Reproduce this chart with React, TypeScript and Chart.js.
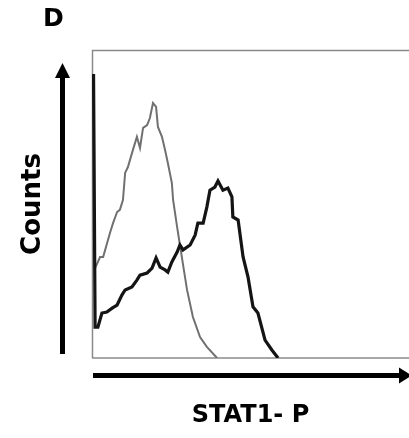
import React, { useEffect, useRef } from "react";
import { Chart, registerables } from "chart.js";

Chart.register(...registerables);

// Fluorescence channel (x) and counts (y)
const blackX = [5, 10, 19, 32, 48, 65, 81, 97, 107, 129, 145, 155, 178, 194, 207, 220, 236, 245, 258, 275, 284, 294, 317, 333, 342, 359, 371, 381, 397, 407, 423, 439, 452, 455, 472, 488, 504, 520, 536, 559, 581, 601];
const blackY = [92.2, 10, 10, 14.6, 14.9, 16.2, 17.2, 20.5, 22.1, 23.1, 25.3, 26.9, 27.6, 29.2, 32.5, 29.5, 28.6, 27.9, 31.2, 34.4, 36.7, 35.1, 36.7, 39.9, 43.8, 43.8, 49.0, 54.5, 55.5, 57.5, 54.5, 55.2, 52.3, 45.8, 44.8, 32.8, 26.3, 16.6, 14.6, 5.8, 2.6, 0];

const grayX = [10, 26, 36, 58, 68, 81, 90, 100, 107, 116, 132, 145, 155, 165, 178, 187, 197, 207, 213, 226, 236, 245, 258, 262, 275, 284, 307, 326, 349, 371, 404];
const grayY = [29.2, 32.8, 32.8, 40.6, 43.8, 47.4, 48.1, 51.3, 60.1, 62.0, 67.5, 71.8, 68.2, 74.7, 75.6, 77.9, 82.8, 81.5, 75.0, 71.8, 67.5, 63.3, 56.8, 51.3, 42.5, 36.7, 22.1, 13.3, 6.8, 3.6, 0];

const panelLabel = "D";
const xTitle = "STAT1- P";
const yTitle = "Counts";
const xRange = [0, 1024];
const yRange = [0, 100];

const toPoints = (xs: number[], ys: number[]) => xs.map((x, i) => ({ x, y: ys[i] }));

const decorPlugin = {
  id: "decor",
  beforeDatasetsDraw(chart: any) {
    const { ctx, chartArea: a } = chart;
    ctx.save();
    ctx.strokeStyle = "#8a8a8a";
    ctx.lineWidth = 1.5;
    ctx.beginPath();
    ctx.moveTo(a.left + 0.5, a.bottom);
    ctx.lineTo(a.left + 0.5, a.top + 0.5);
    ctx.lineTo(a.right, a.top + 0.5);
    ctx.moveTo(a.left, a.bottom);
    ctx.lineTo(a.right, a.bottom);
    ctx.stroke();
    ctx.restore();
  },
  afterDraw(chart: any) {
    const { ctx, chartArea: a } = chart;
    ctx.save();
    ctx.fillStyle = "#000";
    // vertical arrow
    const vx = a.left - 29.5;
    const vTip = a.top + 13;
    const vBase = vTip + 15;
    ctx.fillRect(vx - 2.5, vBase - 1, 5, a.bottom - 4 - vBase + 1);
    ctx.beginPath();
    ctx.moveTo(vx, vTip);
    ctx.lineTo(vx - 7.5, vBase);
    ctx.lineTo(vx + 7.5, vBase);
    ctx.closePath();
    ctx.fill();
    // horizontal arrow
    const hy = a.bottom + 17.5;
    const hBase = a.right - 10;
    ctx.fillRect(a.left + 1, hy - 2.5, hBase - a.left, 5);
    ctx.beginPath();
    ctx.moveTo(hBase + 13, hy);
    ctx.lineTo(hBase, hy - 8);
    ctx.lineTo(hBase, hy + 8);
    ctx.closePath();
    ctx.fill();
    ctx.restore();
  },
};

export default function App() {
  const ref = useRef<HTMLCanvasElement>(null);
  useEffect(() => {
    if (!ref.current) return;
    const chart = new Chart(ref.current, {
      type: "line",
      data: {
        datasets: [
          {
            label: "STAT1-P stimulated",
            data: toPoints(blackX, blackY),
            borderColor: "#141414",
            borderWidth: 3.2,
            pointRadius: 0,
            tension: 0,
            fill: false,
          },
          {
            label: "control",
            data: toPoints(grayX, grayY),
            borderColor: "#707070",
            borderWidth: 2,
            pointRadius: 0,
            tension: 0,
            fill: false,
          },
        ],
      },
      options: {
        animation: false,
        responsive: false,
        layout: { padding: { left: 43, top: 0, right: 0, bottom: 0 } },
        plugins: {
          legend: { display: false },
          tooltip: { enabled: false },
          title: {
            display: true,
            text: panelLabel,
            align: "start",
            color: "#000",
            font: { family: "DejaVu Sans", weight: "bold", size: 25, lineHeight: 1.2 },
            padding: { top: 4, bottom: 16 },
          },
        },
        scales: {
          x: {
            type: "linear",
            min: xRange[0],
            max: xRange[1],
            ticks: { display: false },
            grid: { display: false, drawTicks: false },
            border: { display: false },
            title: {
              display: true,
              text: xTitle,
              color: "#000",
              font: { family: "DejaVu Sans", weight: "bold", size: 24, lineHeight: 1.2 },
              padding: { top: 43.1, bottom: 8.1 },
            },
          },
          y: {
            type: "linear",
            min: yRange[0],
            max: yRange[1],
            ticks: { display: false },
            grid: { display: false, drawTicks: false },
            border: { display: false },
            title: {
              display: true,
              text: yTitle,
              color: "#000",
              font: { family: "DejaVu Sans", weight: "bold", size: 26, lineHeight: 1.2 },
              padding: { top: -25.6, bottom: 43.4 },
            },
          },
        },
      },
      plugins: [decorPlugin],
    });
    return () => chart.destroy();
  }, []);
  return (
    <div style={{ position: "fixed", left: 0, top: 0, width: 409, height: 438, background: "#fff" }}>
      <canvas ref={ref} width={409} height={438} />
    </div>
  );
}
